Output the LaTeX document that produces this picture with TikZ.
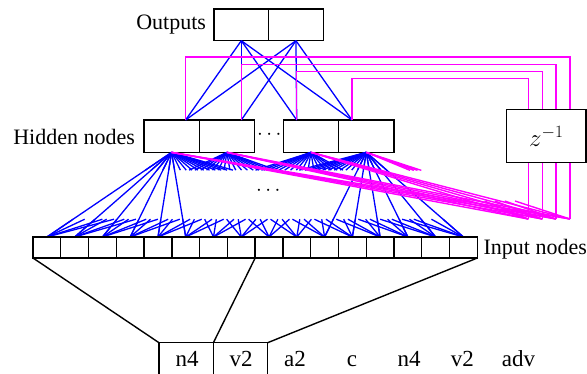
\documentclass[tikz,border=0pt]{standalone}
\usepackage{fontspec}
\setmainfont{Liberation Serif}
\usetikzlibrary{calc}
\definecolor{netblue}{RGB}{0,0,255}
\definecolor{netmag}{RGB}{255,0,255}
\begin{document}
\begin{tikzpicture}[x=1pt,y=-1pt,
  box/.style={draw=black, line width=1.4pt, minimum width=55.3pt, minimum height=32.3pt, inner sep=0pt, outer sep=0pt},
  cell/.style={minimum width=27.77pt, minimum height=21pt, inner sep=0pt, outer sep=0pt},
  bl/.style={draw=netblue, line width=1.3pt},
  mg/.style={draw=netmag, line width=1.4pt},
  blk/.style={draw=black, line width=1.4pt},
  lbl/.style={font=\fontsize{22}{26}\selectfont, inner sep=0pt, outer sep=0pt},
  word/.style={font=\fontsize{23}{27}\selectfont, inner sep=0pt, outer sep=0pt, anchor=base}]
\useasboundingbox (0,0) rectangle (587,373);

% output nodes
\node[box, minimum width=54.65pt, minimum height=31.7pt] (o1) at (241.3,24.85) {};
\node[box, minimum width=54.65pt, minimum height=31.7pt] (o2) at (295.95,24.85) {};
% hidden nodes
\node[box] (h1) at (171.6,136.2) {};
\node[box] (h2) at (226.9,136.2) {};
\node[box] (h3) at (311,136.2) {};
\node[box] (h4) at (366.3,136.2) {};
% hidden top connection points
\coordinate (ht1) at (185.6,120);
\coordinate (ht2) at (241.3,120);
\coordinate (ht3) at (296.7,120);
\coordinate (ht4) at (352,120);
% input nodes
\foreach \k in {1,...,16}{
  \node[cell] (i\k) at ({33+27.77*(\k-0.5)},247.5) {};
}
% context points and corners
\coordinate (c1) at (570,219);
\coordinate (c2) at (556,219);
\coordinate (c3) at (542.3,219);
\coordinate (c4) at (528.3,219);
\coordinate (r1) at (570,56.9);
\coordinate (r2) at (556,64.2);
\coordinate (r3) at (542.3,71.3);
\coordinate (r4) at (528.3,78.7);

% labels
\node[lbl, anchor=base east] (outl) at (206,29.3) {Outputs};
\node[lbl, anchor=base west] (hidl) at (13.3,144) {Hidden nodes};
\node[lbl, anchor=base west] (inl) at (483.6,254) {Input nodes};
\node[lbl] (hdots) at (269.3,135) {$\cdots$};
\node[lbl] (mdots) at (268.3,191) {$\cdots$};

% blue: outputs to hidden
\foreach \o in {1,2}{
  \foreach \t in {1,2,3,4}{
    \draw[bl] (o\o.south) -- (ht\t);
  }
}
% blue: hidden to inputs (stubs)
\foreach \h in {1,2,3,4}{
  \foreach \k in {1,...,16}{
    \draw[bl] (h\h.south) -- ($(h\h.south)!0.21!(i\k.north)$);
    \draw[bl] (i\k.north) -- ($(i\k.north)!0.21!(h\h.south)$);
  }
}
% blue: full connections
\foreach \k in {1,...,6}{ \draw[bl] (h1.south) -- (i\k.north); }
\foreach \k in {11,...,16}{ \draw[bl] (h4.south) -- (i\k.north); }

% input row grid
\draw[blk] (i1.north west) rectangle (i16.south east);
\foreach \k in {1,...,15}{
  \draw[blk] (i\k.north east) -- (i\k.south east);
}

% magenta: copies to context
\foreach \j in {1,2,3,4}{
  \draw[mg] (ht\j) |- (r\j) -- (c\j);
}
% magenta: context to hidden
\foreach \h in {1,2,3}{
  \foreach \j in {1,2,3,4}{
    \draw[mg] (c\j) -- (h\h.south);
  }
}
\foreach \j in {1,2,3,4}{
  \draw[mg] (h4.south) -- ($(h4.south)!0.27!(c\j)$);
  \draw[mg] (c\j) -- ($(c\j)!0.27!(h4.south)$);
}

% delay box
\node[draw=black, line width=1.4pt, fill=white, minimum width=79.3pt, minimum height=53.4pt, inner sep=0pt, font=\fontsize{24}{28}\selectfont] (zb) at (546.3,136) {$z^{-1}$};

% word window
\coordinate (wa) at (159,342.7);
\coordinate (wb) at (213.4,342.7);
\coordinate (wc) at (267.7,342.7);
\draw[blk] (i1.south west) -- (wa);
\draw[blk] (i8.south east) -- (wb);
\draw[blk] (i16.south east) -- (wc);
\draw[blk] (159,374) -- (wa) -- (wc) -- (267.7,374);
\draw[blk] (wb) -- (213.4,374);
\node[word] (t1) at (187,366.7) {n4};
\node[word] (t2) at (241,366.7) {v2};
\node[word] (t3) at (295,366.7) {a2};
\node[word] (t4) at (352,366.7) {c};
\node[word] (t5) at (409,366.7) {n4};
\node[word] (t6) at (462.4,366.7) {v2};
\node[word] (t7) at (518.5,366.7) {adv};
\end{tikzpicture}
\end{document}
